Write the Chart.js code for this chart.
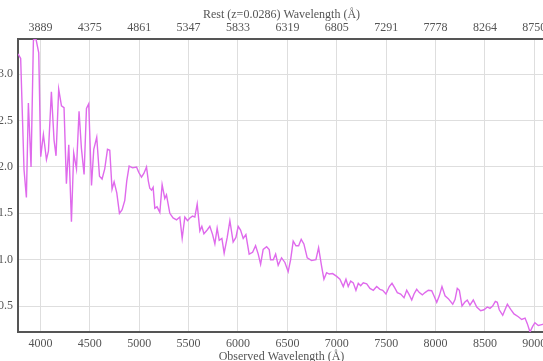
<!DOCTYPE html>
<html>
<head>
<meta charset="utf-8">
<script src="https://cdn.jsdelivr.net/npm/chart.js@4/dist/chart.umd.min.js"></script>
<style>
  html, body { margin: 0; padding: 0; overflow: hidden; width: 543px; height: 361px; background: #fff; }
  #wrap { position: absolute; left: -12px; top: 0; width: 617px; height: 368px; }
</style>
</head>
<body>
<div id="wrap"><canvas id="spectrum" width="617" height="368"></canvas></div>
<script>
// Galaxy spectrum: observed wavelength (Å) and relative flux
const redshift = 0.0286;

const observedWavelength = [
  3773, 3800, 3834, 3858, 3878, 3905, 3929, 3955, 3983, 4003,
  4030, 4061, 4081, 4111, 4138, 4158, 4185, 4213, 4239, 4263,
  4287, 4314, 4337, 4365, 4391, 4415, 4442, 4466, 4489, 4517,
  4540, 4570, 4598, 4624, 4651, 4679, 4702, 4725, 4746, 4773,
  4800, 4827, 4854, 4874, 4898, 4933, 4973, 4996, 5023, 5047,
  5074, 5092, 5107, 5125, 5141, 5158, 5181, 5209, 5232, 5259,
  5276, 5310, 5343, 5378, 5411, 5435, 5462, 5489, 5513, 5540,
  5563, 5587, 5614, 5634, 5655, 5688, 5715, 5743, 5766, 5789,
  5810, 5837, 5860, 5891, 5918, 5951, 5979, 6002, 6026, 6053,
  6080, 6113, 6148, 6178, 6205, 6229, 6255, 6290, 6316, 6330,
  6357, 6381, 6407, 6441, 6475, 6508, 6533, 6559, 6587, 6614,
  6640, 6667, 6701, 6745, 6789, 6816, 6847, 6870, 6897, 6924,
  6958, 6999, 7032, 7066, 7093, 7116, 7141, 7167, 7194, 7218,
  7242, 7268, 7303, 7336, 7370, 7404, 7437, 7465, 7498, 7532,
  7559, 7590, 7613, 7647, 7681, 7708, 7734, 7759, 7782, 7809,
  7836, 7866, 7893, 7927, 7961, 7984, 8012, 8038, 8065, 8096,
  8129, 8174, 8197, 8220, 8241, 8268, 8295, 8321, 8348, 8382,
  8417, 8457, 8490, 8524, 8551, 8578, 8605, 8625, 8645, 8680,
  8703, 8727, 8761, 8794, 8838, 8872, 8906, 8929, 8956, 8983,
  9006, 9040, 9075, 9108
];

const flux = [
  3.22, 3.17, 1.97, 1.67, 2.69, 2.00, 3.37, 3.38, 3.23, 2.11,
  2.35, 2.08, 2.17, 2.81, 2.29, 2.12, 2.84, 2.66, 2.64, 1.82,
  2.24, 1.41, 2.15, 1.98, 2.60, 2.20, 1.92, 2.63, 2.68, 1.80,
  2.19, 2.32, 1.90, 1.87, 1.98, 2.19, 2.18, 1.76, 1.84, 1.72,
  1.50, 1.54, 1.64, 1.85, 2.01, 1.99, 2.00, 1.94, 1.89, 1.93,
  2.00, 1.85, 1.77, 1.75, 1.78, 1.555, 1.57, 1.51, 1.81, 1.66,
  1.70, 1.50, 1.45, 1.43, 1.46, 1.23, 1.46, 1.42, 1.45, 1.47,
  1.46, 1.60, 1.31, 1.36, 1.28, 1.32, 1.36, 1.27, 1.17, 1.34,
  1.21, 1.23, 1.07, 1.24, 1.42, 1.19, 1.24, 1.36, 1.32, 1.23,
  1.27, 1.06, 1.08, 1.15, 1.06, 0.95, 1.11, 1.14, 1.11, 1.00,
  1.00, 1.06, 0.94, 1.02, 0.97, 0.87, 1.00, 1.20, 1.15, 1.15,
  1.22, 1.17, 1.02, 0.99, 1.00, 1.13, 0.925, 0.79, 0.86, 0.845,
  0.85, 0.82, 0.79, 0.71, 0.79, 0.71, 0.77, 0.75, 0.67, 0.745,
  0.72, 0.75, 0.74, 0.69, 0.67, 0.71, 0.68, 0.67, 0.63, 0.71,
  0.745, 0.69, 0.645, 0.63, 0.59, 0.67, 0.62, 0.565, 0.63, 0.68,
  0.645, 0.62, 0.645, 0.67, 0.665, 0.61, 0.54, 0.61, 0.71, 0.61,
  0.58, 0.52, 0.57, 0.69, 0.67, 0.50, 0.54, 0.565, 0.51, 0.565,
  0.49, 0.45, 0.46, 0.49, 0.475, 0.50, 0.55, 0.54, 0.46, 0.40,
  0.46, 0.52, 0.465, 0.415, 0.385, 0.355, 0.37, 0.31, 0.22, 0.28,
  0.32, 0.29, 0.30, 0.31
];

// Tick positions on the observed-wavelength and flux axes
const wavelengthTicks = [4000, 4500, 5000, 5500, 6000, 6500, 7000, 7500, 8000, 8500, 9000];
const fluxTicks = [0.5, 1.0, 1.5, 2.0, 2.5, 3.0];

const points = observedWavelength.map((w, i) => ({ x: w, y: flux[i] }));

const fontFamily = '"Liberation Serif", "Times New Roman", serif';
const textColor = '#555';
const gridColor = '#dedede';
const axisColor = '#555';

Chart.defaults.font.family = fontFamily;
Chart.defaults.font.size = 12;
Chart.defaults.color = textColor;

const xMin = observedWavelength[0];
const xMax = observedWavelength[observedWavelength.length - 1];
const setTicks = values => scale => { scale.ticks = values.map(v => ({ value: v })); };

new Chart(document.getElementById('spectrum'), {
  type: 'line',
  data: {
    datasets: [{
      data: points,
      borderColor: '#df6aec',
      borderWidth: 1.4,
      pointRadius: 0,
      tension: 0,
      fill: false
    }]
  },
  options: {
    responsive: false,
    animation: false,
    devicePixelRatio: 1,
    layout: { padding: { left: 0, right: 60, top: 0, bottom: 0 } },
    plugins: { legend: { display: false }, tooltip: { enabled: false } },
    scales: {
      x: {
        type: 'linear',
        position: 'bottom',
        min: xMin,
        max: xMax,
        afterBuildTicks: setTicks(wavelengthTicks),
        ticks: { padding: 5, maxRotation: 0, autoSkip: false, callback: v => String(v) },
        grid: { color: gridColor, lineWidth: 1, drawTicks: false },
        border: { display: true, color: axisColor, width: 2 },
        title: { display: true, text: 'Observed Wavelength (Å)', padding: { top: 4, bottom: 4 } },
        afterFit: s => { s.height = 36; }
      },
      xRest: {
        type: 'linear',
        position: 'top',
        min: xMin,
        max: xMax,
        afterBuildTicks: setTicks(wavelengthTicks),
        ticks: { padding: 4, maxRotation: 0, autoSkip: false,
                 callback: v => String(Math.round(v / (1 + redshift))) },
        grid: { display: false, drawTicks: false },
        border: { display: true, color: axisColor, width: 2 },
        title: { display: true, text: 'Rest (z=' + redshift + ') Wavelength (Å)', padding: { top: 8, bottom: 4 } },
        afterFit: s => { s.height = 39; }
      },
      y: {
        type: 'linear',
        position: 'left',
        min: Math.min(...flux),
        max: Math.max(...flux),
        afterBuildTicks: setTicks(fluxTicks),
        ticks: { padding: 5, callback: v => v.toFixed(1) },
        grid: { color: gridColor, lineWidth: 1, drawTicks: false },
        border: { display: true, color: axisColor, width: 2 },
        afterFit: s => { s.width = 30; }
      }
    }
  }
});
</script>
</body>
</html>
